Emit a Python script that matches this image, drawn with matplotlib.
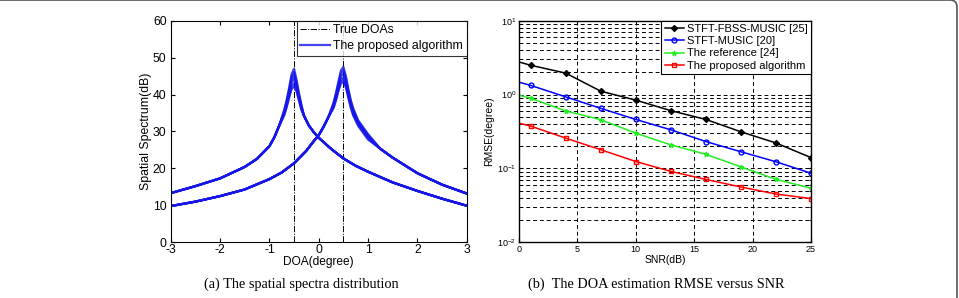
import matplotlib
matplotlib.use("Agg")
import matplotlib.pyplot as plt
import matplotlib.patches as mpatches
import matplotlib.transforms as mtransforms
from matplotlib.ticker import LogLocator, NullFormatter

plt.rcParams['font.family'] = ['Liberation Sans', 'DejaVu Sans']
plt.rcParams['mathtext.fontset'] = 'custom'
plt.rcParams['mathtext.rm'] = 'Liberation Sans'
plt.rcParams['mathtext.it'] = 'Liberation Sans:italic'
plt.rcParams['axes.unicode_minus'] = False

# ---- panel (a): spatial spectra ----
true_doas = [-0.5, 0.5]

# source at -0.5: shared part of every trial
doa_a = [-3, -2.5, -2, -1.5, -1.25, -1, -0.9, -0.8,
         -0.3, -0.2, -0.1, 0, 0.25, 0.5, 0.75, 1, 1.5, 2, 2.5, 3]
spec_a = [13.3, 15.2, 17.3, 20.4, 22.6, 26.0, 28.4, 31.6,
          34.3, 31.6, 29.8, 28.3, 25.3, 22.7, 20.7, 19.1, 16.2, 13.9, 11.8, 9.9]
# near the peak each trial differs
peak_doa_a = [-0.7, -0.65, -0.6, -0.55, -0.5, -0.45, -0.4, -0.35]
trials_a = [
    [35.8, 38.5, 41.8, 45.5, 47.0, 44.0, 40.3, 37.2],
    [35.5, 38.1, 41.2, 44.8, 46.0, 43.3, 39.9, 36.9],
    [35.2, 37.7, 40.7, 44.0, 45.2, 42.7, 39.5, 36.6],
    [34.9, 37.3, 40.2, 43.2, 44.2, 42.1, 39.1, 36.4],
    [34.6, 36.9, 39.6, 42.2, 43.0, 41.4, 38.7, 36.1],
    [34.3, 36.5, 39.1, 41.5, 42.2, 40.8, 38.3, 35.8],
]

# source at +0.5
doa_b = [-3, -2.5, -2, -1.5, -1, -0.75, -0.5, -0.25, -0.1, 0, 0.1, 0.2,
         1.25, 1.5, 2, 2.5, 3]
spec_b = [9.8, 11.0, 12.5, 14.3, 17.1, 18.9, 21.4, 24.8, 27.4, 29.0, 31.3, 34.0,
          25.3, 22.9, 18.7, 15.6, 13.2]
peak_doa_b = [0.3, 0.35, 0.4, 0.45, 0.5, 0.55, 0.6, 0.65, 0.7, 0.8, 1.0]
trials_b = [
    [37.8, 40.5, 43.5, 46.5, 47.5, 45.0, 41.5, 38.5, 36.2, 33.0, 29.3],
    [37.5, 40.0, 43.0, 45.8, 46.6, 44.4, 41.0, 38.0, 35.8, 32.7, 29.0],
    [37.2, 39.6, 42.4, 45.0, 45.6, 43.7, 40.5, 37.6, 35.4, 32.4, 28.7],
    [36.9, 39.2, 41.9, 44.2, 44.6, 43.0, 40.0, 37.2, 35.0, 32.1, 28.4],
    [36.6, 38.8, 41.4, 43.6, 44.0, 42.4, 39.5, 36.8, 34.6, 31.8, 28.1],
    [36.3, 38.4, 41.0, 43.0, 43.4, 41.9, 39.1, 36.4, 34.3, 31.5, 27.8],
]

# ---- panel (b): RMSE versus SNR ----
snr = [0, 1, 4, 7, 10, 13, 16, 19, 22, 25]
rmse_fbss = [2.76, 2.49, 1.95, 1.11, 0.84, 0.605, 0.46, 0.313, 0.221, 0.14]
rmse_music = [1.47, 1.33, 0.93, 0.65, 0.46, 0.333, 0.231, 0.168, 0.123, 0.086]
rmse_ref = [0.98, 0.89, 0.60, 0.456, 0.30, 0.208, 0.155, 0.105, 0.071, 0.054]
rmse_prop = [0.41, 0.374, 0.257, 0.179, 0.124, 0.091, 0.071, 0.056, 0.045, 0.039]


def merge(xs, ys, px, py):
    pts = sorted(zip(list(xs) + list(px), list(ys) + list(py)))
    return [p[0] for p in pts], [p[1] for p in pts]


fig = plt.figure(figsize=(9.59, 2.98), dpi=100)
ax1 = fig.add_axes([0.178, 0.187, 0.3087, 0.7436])
ax2 = fig.add_axes([0.5412, 0.187, 0.3045, 0.7436])

blue = '#1616e8'
for i, (ta, tb) in enumerate(zip(trials_a, trials_b)):
    xa, ya = merge(doa_a, spec_a, peak_doa_a, ta)
    xb, yb = merge(doa_b, spec_b, peak_doa_b, tb)
    lbl = 'The proposed algorithm' if i == 0 else None
    ax1.plot(xa, ya, color=blue, lw=1.6, alpha=0.8)
    ax1.plot(xb, yb, color=blue, lw=1.6, alpha=0.8, label=lbl)
for k, d in enumerate(true_doas):
    ax1.axvline(d, color='k', ls='-.', lw=0.7, label='True DOAs' if k == 0 else None, zorder=0)

ax1.set_xlim(-3, 3)
ax1.set_ylim(0, 60)
ax1.set_xticks(range(-3, 4))
ax1.set_yticks(range(0, 61, 10))
ax1.tick_params(direction='in', top=True, right=True, labelsize=8.8, length=3)
ax1.tick_params(axis='x', pad=1.5)
ax1.tick_params(axis='y', pad=3)
ax1.set_xlabel('DOA(degree)', fontsize=8.6, labelpad=0)
ax1.set_ylabel('Spatial Spectrum(dB)', fontsize=8.8, labelpad=1)
h, l = ax1.get_legend_handles_labels()
order = [l.index('True DOAs'), l.index('The proposed algorithm')]
leg1 = ax1.legend([h[i] for i in order], [l[i] for i in order], loc='upper right',
                  borderaxespad=0, fontsize=8.8, fancybox=False, edgecolor='k',
                  handlelength=2.4, handletextpad=0.3, borderpad=0.3, labelspacing=0.3)
leg1.get_frame().set_linewidth(0.8)
for s in ax1.spines.values():
    s.set_linewidth(0.8)

ax2.set_yscale('log')
every = list(range(1, len(snr)))
ax2.plot(snr, rmse_fbss, color='k', marker='D', ms=3, markevery=every,
         lw=1.1, label='STFT-FBSS-MUSIC [25]')
ax2.plot(snr, rmse_music, color='#0000ff', marker='o', ms=3.5, mfc='none', mew=1,
         markevery=every, lw=1.1, label='STFT-MUSIC [20]')
ax2.plot(snr, rmse_ref, color='#22ee22', marker='*', ms=3.5,
         markevery=every, lw=1.1, label='The reference [24]')
ax2.plot(snr, rmse_prop, color='#ff0000', marker='s', ms=3.5, mfc='none', mew=1,
         markevery=every, lw=1.1, label='The proposed algorithm')
ax2.set_xlim(0, 25)
ax2.set_ylim(1e-2, 1e1)
ax2.set_xticks(range(0, 26, 5))
ax2.yaxis.set_major_locator(LogLocator(base=10, numticks=10))
ax2.yaxis.set_minor_locator(LogLocator(base=10, subs=range(2, 10), numticks=20))
ax2.yaxis.set_minor_formatter(NullFormatter())
ax2.grid(True, which='major', axis='both', color='k', ls=(0, (4, 3)), lw=0.7)
ax2.grid(True, which='minor', axis='y', color='k', ls=(0, (4, 3)), lw=0.7)
ax2.tick_params(which='both', direction='in', top=True, right=True, labelsize=6.5, pad=2)
ax2.tick_params(which='major', length=3)
ax2.tick_params(which='minor', length=1.5)
ax2.set_xlabel('SNR(dB)', fontsize=7.5, labelpad=1)
ax2.set_ylabel('RMSE(degree)', fontsize=7.5, labelpad=2)
leg2 = ax2.legend(loc='upper right', borderaxespad=0, fontsize=8, fancybox=False,
                  edgecolor='k', framealpha=1, handlelength=1.7, handletextpad=0.3,
                  borderpad=0.3, labelspacing=0.2)
leg2.get_frame().set_linewidth(0.8)
for s in ax2.spines.values():
    s.set_linewidth(1.0)

fig.text(0.314, 0.047, '(a) The spatial spectra distribution', ha='center', va='center',
         fontsize=10.3, family=['Liberation Serif', 'DejaVu Serif'])
fig.text(0.684, 0.047, '(b)  The DOA estimation RMSE versus SNR', ha='center', va='center',
         fontsize=10.3, family=['Liberation Serif', 'DejaVu Serif'])

# thin rounded frame, mostly cropped at the right edge
frame = mpatches.FancyBboxPatch((-30, -30), 987, 328,
                                boxstyle='round,pad=0,rounding_size=7',
                                transform=mtransforms.IdentityTransform(),
                                fill=False, edgecolor='#555555', lw=1.2)
fig.patches.append(frame)

fig.savefig('out.png', dpi=100)
